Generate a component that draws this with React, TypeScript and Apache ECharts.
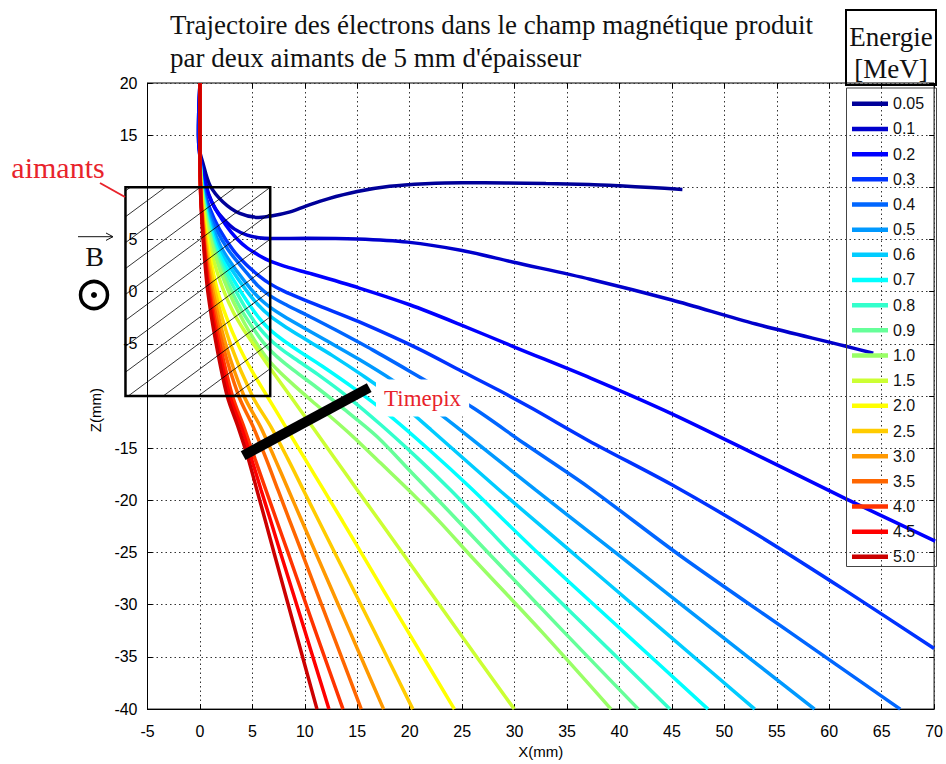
import React, { useEffect, useRef } from 'react';
import * as echarts from 'echarts';

const energyLabels = ['0.05', '0.1', '0.2', '0.3', '0.4', '0.5', '0.6', '0.7', '0.8', '0.9', '1.0', '1.5', '2.0', '2.5', '3.0', '3.5', '4.0', '4.5', '5.0'];

const lineColors = ['#000099', '#0000cc', '#0000ff', '#0033ff', '#0066ff', '#0099ff', '#00ccff', '#00ffff', '#33ffcc', '#66ff99', '#99ff66', '#ccff33', '#ffff00', '#ffcc00', '#ff9900', '#ff6600', '#ff3300', '#ff0000', '#cc0000'];

// trajectories: [X(mm), Z(mm)]
const traj005 = [[0, 20], [-0.12, 17], [-0.15, 15], [-0.05, 13.6], [0.26, 12.4], [0.95, 10.2], [2.2, 8.6], [3.8, 7.5], [5.6, 7.12], [6.8, 7.25], [8.6, 7.65], [10.1, 8.2], [12.2, 8.9], [15, 9.6], [18.1, 10.1], [21.5, 10.35], [25, 10.45], [29.2, 10.42], [33, 10.36], [37.1, 10.28], [40, 10.15], [43, 9.98], [46, 9.8]];
const traj01 = [[0, 20], [-0.12, 17], [-0.14, 15], [-0.05, 13.4], [0.15, 12.3], [0.4, 11.1], [0.85, 9.3], [1.5, 7.9], [2.3, 6.9], [3.3, 6.0], [4.5, 5.42], [5.6, 5.18], [6.8, 5.1], [10.3, 5.12], [15, 5.05], [19.8, 4.75], [25, 3.95], [29.8, 2.85], [37.2, 1.2], [45, -0.8], [53, -3.1], [61.5, -5.2], [64.2, -5.9]];
const traj02 = [[0, 20], [-0.1, 17], [-0.12, 15], [-0.04, 13.3], [0.08, 12.2], [0.44, 10.4], [1.21, 8.4], [2.46, 6.4], [3.5, 5.1], [4.5, 4.2], [5.6, 3.5], [6.75, 2.9], [8.5, 2.3], [10.5, 1.75], [15.2, 0.35], [20, -1.25], [24.7, -3.1], [30.1, -5.35], [37.3, -8.3], [45, -11.7], [53, -15.6], [61.5, -19.8], [70.1, -23.9]];
const traj03 = [[0, 20], [-0.06, 17], [-0.08, 15], [0, 13.3], [0.05, 12], [0.35, 10], [0.93, 8], [1.85, 6], [3.16, 4], [4.4, 2.6], [5.6, 1.55], [6.7, 0.75], [8.0, 0.05], [9.6, -0.65], [11.6, -1.45], [15.2, -2.9], [20.9, -5.5], [25, -7.65], [28.5, -9.45], [31.7, -11.2], [37.1, -14.3], [45, -18.5], [53, -23.2], [61.5, -28.6], [70, -34.2]];
const traj04 = [[0, 20], [0, 13.3], [0.04, 12], [0.29, 10], [0.77, 8], [1.55, 6], [2.7, 4], [4.3, 2], [5.5, 0.6], [6.7, -0.4], [8.3, -1.3], [10.5, -2.4], [13, -3.7], [16.5, -5.6], [21.6, -8.55], [26.0, -11.1], [31.0, -14.6], [37.0, -18.7], [45.8, -25.3], [56.2, -32.6], [66.77, -40]];
const traj05 = [[0, 20], [0, 13.3], [0.25, 10], [0.66, 8], [1.29, 6], [2.16, 4], [3.5, 2], [4.9, 0.2], [5.9, -0.85], [6.7, -1.5], [8.0, -2.35], [9.8, -3.4], [12.0, -4.65], [15.2, -6.5], [18.4, -8.5], [21.4, -10.6], [24.4, -12.9], [32.0, -19], [40.0, -25.3], [49.2, -32.6], [58.6, -40]];
const traj06 = [[0, 20], [0, 13.3], [0.22, 10], [0.58, 8], [1.13, 6], [1.88, 4], [3.1, 2], [4.4, 0.15], [5.5, -1.2], [6.7, -2.35], [8.2, -3.4], [10.3, -4.7], [12.6, -6.1], [15.4, -7.95], [18.4, -10.1], [22, -13.2], [28.7, -19.15], [35.84, -25.3], [44.2, -32.5], [52.9, -40]];
const traj07 = [[0, 20], [0, 13.3], [0.2, 10], [0.52, 8], [1.01, 6], [1.68, 4], [2.7, 2], [3.9, 0], [5.1, -1.8], [6.0, -2.95], [6.8, -3.75], [8.0, -4.7], [9.6, -5.8], [11.6, -7.1], [14.6, -9.2], [18.0, -11.8], [21.8, -15.1], [25.7, -18.7], [32.5, -25.3], [40.4, -32.6], [48.44, -40]];
const traj08 = [[0, 20], [0, 13.3], [0.18, 10], [0.48, 8], [0.92, 6], [1.51, 4], [2.4, 2], [3.45, 0], [4.55, -1.9], [5.6, -3.4], [6.6, -4.5], [7.7, -5.45], [9.1, -6.45], [11.2, -7.9], [14.0, -10.0], [17.3, -12.8], [20.7, -15.9], [23.8, -18.9], [26.6, -21.8], [29.9, -25.3], [37.3, -32.6], [44.8, -40]];
const traj09 = [[0, 20], [0, 13.3], [0.16, 10], [0.44, 8], [0.84, 6], [1.39, 4], [2.15, 2], [3.05, 0], [4.1, -2], [5.2, -3.7], [6.0, -4.8], [6.8, -5.7], [7.9, -6.7], [9.3, -7.8], [11.3, -9.3], [13.8, -11.3], [16.9, -13.9], [20.2, -17.35], [23.6, -20.9], [27.75, -25.3], [34.7, -32.6], [41.8, -40]];
const traj10 = [[0, 20], [0, 13.3], [0.15, 10], [0.4, 8], [0.78, 6], [1.28, 4], [1.95, 2], [2.75, 0], [3.7, -2], [4.8, -4], [5.9, -5.7], [6.7, -6.75], [7.7, -7.8], [9.0, -9.0], [10.7, -10.5], [12.7, -12.2], [14.6, -13.9], [17.2, -16.4], [20.4, -19.5], [23.0, -22.2], [25.8, -25.3], [32.6, -32.6], [39.2, -40]];
const traj15 = [[0, 20], [0, 13.3], [0.12, 10], [0.32, 8], [0.63, 6], [1.04, 4], [1.6, 2], [2.3, 0], [3.2, -2], [4.2, -3.7], [5.3, -5.3], [6.7, -7.34], [8.61, -10], [10.75, -13], [12.88, -16], [15.0, -19], [17.15, -22], [19.5, -25.3], [24.6, -32.5], [29.97, -40]];
const traj20 = [[0, 20], [0, 13], [0.05, 11], [0.27, 8], [0.85, 4], [1.7, 0], [2.55, -2.5], [3.6, -5], [4.9, -7.5], [6.4, -10], [8.2, -13], [10.0, -16], [11.8, -19], [13.6, -22], [15.54, -25.3], [19.8, -32.5], [24.26, -40]];
const traj25 = [[0, 20], [0, 13], [0.04, 11], [0.22, 8], [0.72, 4], [1.45, 0], [2.9, -5], [5.0, -10], [6.8, -13], [8.37, -16], [9.86, -19], [11.35, -22], [13.0, -25.3], [16.6, -32.5], [20.3, -40]];
const traj30 = [[0, 20], [0, 13], [0.03, 11], [0.19, 8], [0.6, 4], [1.24, 0], [2.45, -5], [4.2, -10], [5.8, -13], [7.14, -16], [8.44, -19], [9.73, -22], [11.16, -25.3], [14.27, -32.5], [17.51, -40]];
const traj35 = [[0, 20], [0, 13], [0.03, 11], [0.17, 8], [0.52, 4], [1.08, 0], [2.15, -5], [3.7, -10], [5.1, -13], [6.31, -16], [7.44, -19], [8.58, -22], [9.83, -25.3], [12.55, -32.5], [15.38, -40]];
const traj40 = [[0, 20], [0, 13], [0.02, 11], [0.15, 8], [0.46, 4], [0.95, 0], [1.9, -5], [3.1, -10], [4.2, -13], [5.24, -16], [6.29, -19], [7.34, -22], [8.5, -25.3], [11.0, -32.5], [13.64, -40]];
const traj45 = [[0, 20], [0, 13], [0.02, 11], [0.13, 8], [0.42, 4], [0.86, 0], [1.7, -5], [2.85, -10], [3.95, -13], [4.91, -16], [5.83, -19], [6.76, -22], [7.77, -25.3], [10.0, -32.5], [12.3, -40]];
const traj50 = [[0, 20], [0, 13], [0.02, 11], [0.12, 8], [0.38, 4], [0.75, 0], [1.55, -5], [2.6, -10], [3.65, -13], [4.61, -16], [5.43, -19], [6.25, -22], [7.14, -25.3], [9.1, -32.5], [11.16, -40]];

const trajectories = [traj005, traj01, traj02, traj03, traj04, traj05, traj06, traj07, traj08, traj09, traj10, traj15, traj20, traj25, traj30, traj35, traj40, traj45, traj50];

// magnet: [xMin, zMin, xMax, zMax]
const magnetBox = [[-7.1, -10, 6.7, 10]];
// Timepix detector segment
const timepixBar = [[4.12, -15.71], [16.14, -9.2]];
// z tick labels hidden behind the magnet edges in the original
const hiddenZLabels = [10, -10];

const xTicks = { min: -5, max: 70, interval: 5 };
const zTicks = { min: -40, max: 20, interval: 5 };

const SANS = '"Liberation Sans", Arial, sans-serif';
const SERIF = '"Liberation Serif", "Times New Roman", serif';
const RED = '#e8232b';

function renderMagnet(params: any, api: any) {
  const p0 = api.coord([api.value(0), api.value(3)]);
  const p1 = api.coord([api.value(2), api.value(1)]);
  const x0 = p0[0], y0 = p0[1], x1 = p1[0], y1 = p1[1];
  const w = x1 - x0, h = y1 - y0;
  const slope = 0.74;
  const spacing = 35;
  const children: any[] = [];
  const kMin = -Math.ceil(h / slope / spacing) - 1;
  const kMax = Math.ceil(w / spacing) + 1;
  for (let k = kMin; k <= kMax; k++) {
    const xTop = x1 - k * spacing;
    const xa = Math.max(x0, xTop - h / slope);
    const xb = Math.min(x1, xTop);
    if (xb - xa > 0.5) {
      children.push({
        type: 'line',
        silent: true,
        shape: { x1: xa, y1: y0 + slope * (xTop - xa), x2: xb, y2: y0 + slope * (xTop - xb) },
        style: { stroke: '#000', lineWidth: 0.8, fill: null },
      });
    }
  }
  children.push({
    type: 'rect',
    silent: true,
    shape: { x: x0, y: y0, width: w, height: h },
    style: { fill: 'none', stroke: '#000', lineWidth: 2.5 },
  });
  return { type: 'group', children };
}

function buildOption() {
  const lineSeries = energyLabels.map((name, i) => ({
    type: 'line',
    name,
    data: trajectories[i],
    showSymbol: false,
    symbol: 'none',
    smooth: 0.3,
    silent: true,
    z: 2,
    lineStyle: { color: lineColors[i], width: 3.5 },
    itemStyle: { color: lineColors[i] },
  }));

  const gridLine = { show: true, lineStyle: { color: '#333', type: [1.5, 3], width: 1 } };

  return {
    animation: false,
    backgroundColor: '#fff',
    title: {
      text: "Trajectoire des électrons dans le champ magnétique produit\npar deux aimants de 5 mm d'épaisseur",
      left: 170,
      top: 8,
      padding: 0,
      textStyle: { fontFamily: SERIF, fontSize: 27, fontWeight: 'normal', color: '#111', lineHeight: 33 },
    },
    grid: { left: 147.5, right: 10.2, top: 83, bottom: 49, show: true, borderColor: '#000', borderWidth: 1, backgroundColor: 'transparent' },
    legend: {
      data: energyLabels,
      orient: 'vertical',
      left: 852,
      top: 93.8,
      padding: 0,
      icon: 'rect',
      itemWidth: 36,
      itemHeight: 4.5,
      itemGap: 5.17,
      selectedMode: false,
      textStyle: { fontSize: 16, fontFamily: SANS, color: '#111', lineHeight: 20 },
    },
    xAxis: [
      {
        type: 'value', ...xTicks, position: 'bottom',
        name: 'X(mm)', nameLocation: 'middle', nameGap: 30,
        nameTextStyle: { fontSize: 15, fontFamily: SANS, color: '#000' },
        axisLine: { show: true, onZero: false, lineStyle: { color: '#000', width: 1 } },
        axisTick: { show: true, inside: true, length: 5, lineStyle: { color: '#000' } },
        axisLabel: { color: '#000', fontSize: 16, fontFamily: SANS, margin: 14 },
        splitLine: gridLine,
      },
      {
        type: 'value', ...xTicks, position: 'top',
        axisLine: { show: false, onZero: false },
        axisTick: { show: true, inside: true, length: 5, lineStyle: { color: '#000' } },
        axisLabel: { show: false },
        splitLine: { show: false },
      },
    ],
    yAxis: [
      {
        type: 'value', ...zTicks, position: 'left',
        name: 'Z(mm)', nameLocation: 'middle', nameGap: 45, nameRotate: 90,
        nameTextStyle: { fontSize: 15, fontFamily: SANS, color: '#000', padding: [0, 28, 0, 0] },
        axisLine: { show: true, onZero: false, lineStyle: { color: '#000', width: 1 } },
        axisTick: { show: true, inside: true, length: 5, lineStyle: { color: '#000' } },
        axisLabel: {
          color: '#000', fontSize: 16, fontFamily: SANS, margin: 10,
          formatter: (v: number) => (hiddenZLabels.includes(v) ? '' : String(v)),
        },
        splitLine: gridLine,
      },
      {
        type: 'value', ...zTicks, position: 'right',
        axisLine: { show: false, onZero: false },
        axisTick: { show: true, inside: true, length: 5, lineStyle: { color: '#000' } },
        axisLabel: { show: false },
        splitLine: { show: false },
      },
    ],
    series: [
      ...lineSeries,
      {
        type: 'custom',
        name: 'aimants',
        data: magnetBox,
        renderItem: renderMagnet,
        encode: { x: [0, 2], y: [1, 3] },
        clip: false,
        silent: true,
        z: 4,
      },
      {
        type: 'line',
        name: 'Timepix',
        data: timepixBar,
        showSymbol: false,
        symbol: 'none',
        silent: true,
        z: 5,
        lineStyle: { color: '#000', width: 10, cap: 'butt' },
      },
    ],
    graphic: [
      { type: 'rect', z: 100, shape: { x: 846, y: 10, width: 90, height: 75 }, style: { fill: 'none', stroke: '#000', lineWidth: 2 } },
      { type: 'rect', z: 100, shape: { x: 846.5, y: 88, width: 90, height: 478.5 }, style: { fill: 'none', stroke: '#444', lineWidth: 1 } },
      { type: 'text', z: 100, x: 891, y: 37, style: { text: 'Energie', fill: '#111', fontSize: 27, fontFamily: SERIF, align: 'center', verticalAlign: 'middle' } },
      { type: 'text', z: 100, x: 891, y: 69, style: { text: '[MeV]', fill: '#111', fontSize: 27, fontFamily: SERIF, align: 'center', verticalAlign: 'middle' } },
      { type: 'text', z: 100, x: 58, y: 167, style: { text: 'aimants', fill: RED, fontSize: 30, fontFamily: SERIF, align: 'center', verticalAlign: 'middle' } },
      { type: 'line', z: 100, shape: { x1: 100, y1: 183, x2: 125, y2: 197 }, style: { stroke: RED, lineWidth: 2 } },
      { type: 'text', z: 100, x: 94.5, y: 256, style: { text: 'B', fill: '#111', fontSize: 28, fontFamily: SERIF, align: 'center', verticalAlign: 'middle' } },
      { type: 'polyline', z: 100, shape: { points: [[78, 236.7], [113, 236.7]] }, style: { stroke: '#111', lineWidth: 1, fill: 'none' } },
      { type: 'polyline', z: 100, shape: { points: [[106, 233], [113, 236.7], [106, 240.4]] }, style: { stroke: '#111', lineWidth: 1, fill: 'none' } },
      { type: 'circle', z: 100, shape: { cx: 94, cy: 295, r: 13.5 }, style: { fill: 'none', stroke: '#000', lineWidth: 3.5 } },
      { type: 'circle', z: 100, shape: { cx: 94, cy: 295, r: 3 }, style: { fill: '#000' } },
      { type: 'text', z: 100, x: 376, y: 398, style: { text: 'Timepix', fill: RED, fontSize: 23, fontFamily: SERIF, align: 'left', verticalAlign: 'middle', backgroundColor: '#fff', padding: [7, 8, 7, 8] } },
    ],
  };
}

export default function App() {
  const ref = useRef<HTMLDivElement>(null);
  useEffect(() => {
    if (!ref.current) return;
    const chart = echarts.init(ref.current, null, { renderer: 'svg' });
    chart.setOption(buildOption() as any);
    return () => chart.dispose();
  }, []);
  return <div ref={ref} style={{ position: 'absolute', left: 0, top: 0, width: 946, height: 764, background: '#fff' }} />;
}
